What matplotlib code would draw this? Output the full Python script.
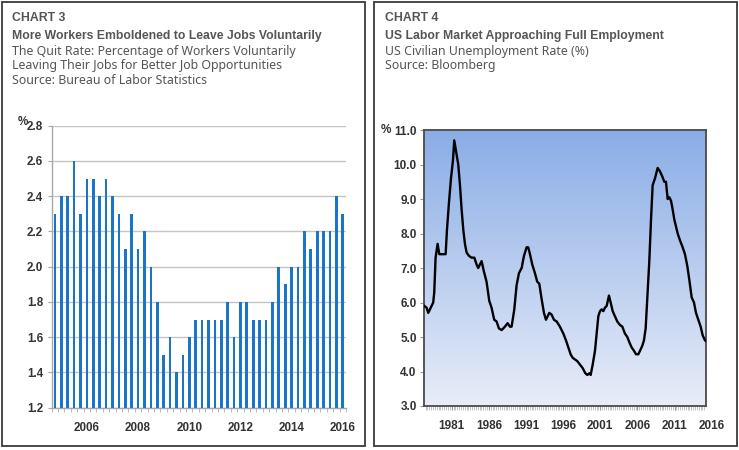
import matplotlib

matplotlib.use("Agg")
import matplotlib.pyplot as plt
import numpy as np
from matplotlib.colors import LinearSegmentedColormap
from matplotlib.patches import Rectangle
from matplotlib.ticker import FormatStrFormatter, MultipleLocator

# chart 3: quarterly quit rate (%)
quit_rate = [2.3, 2.4, 2.4, 2.6, 2.3, 2.5, 2.5, 2.4, 2.5, 2.4, 2.3, 2.1, 2.3, 2.1, 2.2, 2.0,
             1.8, 1.5, 1.6, 1.4, 1.5, 1.6, 1.7, 1.7, 1.7, 1.7, 1.7, 1.8, 1.6, 1.8, 1.8, 1.7,
             1.7, 1.7, 1.8, 2.0, 1.9, 2.0, 2.0, 2.2, 2.1, 2.2, 2.2, 2.2, 2.4, 2.3]
quit_labels = ["2006", "2008", "2010", "2012", "2014", "2016"]

# chart 4: unemployment rate, x in the chart's own year scale
unemp_year = [1977.32, 1977.63, 1977.85, 1978.08, 1978.30, 1978.52, 1978.66, 1978.84,
              1979.11, 1979.34, 1979.65, 1980.19, 1980.37, 1980.64, 1980.91, 1981.17,
              1981.35, 1981.58, 1981.89, 1982.12, 1982.34, 1982.57, 1982.79, 1983.01,
              1983.33, 1983.69, 1984.05, 1984.36, 1984.58, 1984.81, 1985.03, 1985.34,
              1985.70, 1986.06, 1986.37, 1986.73, 1987.05, 1987.36, 1987.72, 1988.17,
              1988.53, 1988.84, 1989.07, 1989.43, 1989.74, 1990.06, 1990.42, 1990.73,
              1991.09, 1991.31, 1991.54, 1991.85, 1992.21, 1992.52, 1992.79, 1993.11,
              1993.42, 1993.69, 1993.91, 1994.14, 1994.45, 1994.77, 1995.13, 1995.57,
              1996.03, 1996.39, 1996.70, 1997.01, 1997.28, 1997.60, 1997.91, 1998.27,
              1998.63, 1998.99, 1999.26, 1999.53, 1999.71, 1999.98, 2000.29, 2000.51,
              2000.74, 2000.96, 2001.19, 2001.41, 2001.63, 2001.86, 2002.17, 2002.40,
              2002.67, 2002.98, 2003.29, 2003.65, 2003.97, 2004.32, 2004.64, 2004.91,
              2005.22, 2005.54, 2005.81, 2006.12, 2006.35, 2006.66, 2006.88, 2007.11,
              2007.33, 2007.60, 2007.83, 2008.05, 2008.37, 2008.72, 2009.04, 2009.35,
              2009.62, 2009.84, 2010.07, 2010.29, 2010.52, 2010.74, 2010.97, 2011.19,
              2011.42, 2011.73, 2012.09, 2012.40, 2012.72, 2012.99, 2013.30, 2013.61,
              2013.88, 2014.20, 2014.51, 2014.78, 2015.10, 2015.23]
unemp_rate = [5.9, 5.85, 5.7, 5.8, 5.9, 6.0, 6.3, 7.3,
              7.7, 7.4, 7.4, 7.4, 8.1, 8.9, 9.6, 10.1,
              10.7, 10.4, 10.0, 9.4, 8.7, 8.1, 7.7, 7.45,
              7.35, 7.3, 7.3, 7.1, 7.0, 7.1, 7.2, 6.9,
              6.6, 6.05, 5.85, 5.5, 5.45, 5.25, 5.2, 5.3,
              5.4, 5.3, 5.3, 5.8, 6.5, 6.85, 7.0, 7.35,
              7.6, 7.6, 7.4, 7.1, 6.85, 6.6, 6.55, 6.1,
              5.7, 5.5, 5.6, 5.7, 5.65, 5.5, 5.45, 5.3,
              5.1, 4.9, 4.7, 4.5, 4.4, 4.35, 4.3, 4.2,
              4.1, 3.95, 3.9, 3.95, 3.9, 4.2, 4.6, 5.1,
              5.6, 5.75, 5.8, 5.75, 5.85, 5.9, 6.2, 6.0,
              5.75, 5.6, 5.45, 5.35, 5.3, 5.1, 5.0, 4.85,
              4.7, 4.6, 4.5, 4.5, 4.6, 4.75, 4.9, 5.25,
              6.1, 7.2, 8.4, 9.4, 9.6, 9.9, 9.8, 9.65,
              9.5, 9.5, 9.0, 9.05, 8.95, 8.7, 8.4, 8.2,
              8.0, 7.8, 7.6, 7.4, 7.05, 6.65, 6.15, 6.0,
              5.7, 5.5, 5.3, 5.05, 4.9, 4.88]
unemp_labels = ["1981", "1986", "1991", "1996", "2001", "2006", "2011", "2016"]

W, H = 739, 450
TEXT_GREY = "#555555"
TICK_GREY = "#333333"
TICK_FONT = ["Liberation Sans", "DejaVu Sans"]
BOLD_FONT = ["Liberation Sans", "DejaVu Sans"]
PLAIN_FONT = ["Noto Sans", "DejaVu Sans"]

fig = plt.figure(figsize=(W / 100, H / 100), dpi=100)


def box(x0, y0, x1, y1):
    # panel frame given in pixels from the top-left corner
    fig.patches.append(Rectangle((x0 / W, 1 - y1 / H), (x1 - x0) / W, (y1 - y0) / H,
                                 transform=fig.transFigure, fill=False,
                                 edgecolor="#3a3a3a", linewidth=1.3))


def axes_px(x0, y0, x1, y1):
    return fig.add_axes([x0 / W, 1 - y1 / H, (x1 - x0) / W, (y1 - y0) / H])


def heading(x, lines):
    baselines = [21, 39, 54.5, 69.5, 84.5]
    for i, line in enumerate(lines):
        bold = i < 2
        fig.text(x / W, 1 - baselines[i] / H, line, ha="left", va="baseline",
                 fontsize=8.8 if bold else 8.9, color=TEXT_GREY,
                 family=BOLD_FONT if bold else PLAIN_FONT,
                 fontweight="bold" if bold else "normal")


def style_ticks(ax, size):
    for lab in ax.get_xticklabels() + ax.get_yticklabels():
        lab.set_family(TICK_FONT)
        lab.set_fontweight("bold")
        lab.set_fontsize(size)
        lab.set_color(TICK_GREY)


box(1.5, 1.5, 365.3, 446)
box(374.3, 1.5, 736.7, 445.7)

heading(12, ["CHART 3",
             "More Workers Emboldened to Leave Jobs Voluntarily",
             "The Quit Rate: Percentage of Workers Voluntarily",
             "Leaving Their Jobs for Better Job Opportunities",
             "Source: Bureau of Labor Statistics"])
heading(385, ["CHART 4",
              "US Labor Market Approaching Full Employment",
              "US Civilian Unemployment Rate (%)",
              "Source: Bloomberg"])

# ---- chart 3: bars
ax1 = axes_px(51.7, 125.7, 346, 407.7)
idx = np.arange(len(quit_rate))
ax1.bar(idx, quit_rate, width=0.42, color="#1a75c9", zorder=3)
ax1.set_ylim(1.2, 2.8)
ax1.set_xlim(-0.45, len(quit_rate) - 0.5)
ax1.yaxis.set_major_locator(MultipleLocator(0.2))
ax1.yaxis.set_major_formatter(FormatStrFormatter("%.1f"))
ax1.grid(axis="y", color="#c4c4c4", linewidth=1.0, zorder=0)
for side in ("top", "right"):
    ax1.spines[side].set_visible(False)
for side in ("left", "bottom"):
    ax1.spines[side].set_color("#a8a8a8")
    ax1.spines[side].set_linewidth(1.0)
ax1.set_xticks(np.arange(5, len(quit_rate), 8))
ax1.set_xticklabels(quit_labels)
ax1.set_xticks(np.arange(-0.5, len(quit_rate), 1), minor=True)
ax1.tick_params(axis="x", which="major", length=0, pad=10)
ax1.tick_params(axis="x", which="minor", length=3, color="#b0b0b0")
ax1.tick_params(axis="y", length=3, color="#a8a8a8", pad=3)
style_ticks(ax1, 8.4)
fig.text(18 / W, 1 - 125 / H, "%", ha="left", va="baseline", fontsize=8.4,
         fontweight="bold", color=TICK_GREY, family=TICK_FONT)

# ---- chart 4: line over a gradient
ax2 = axes_px(424.3, 130, 706, 406)
grad = LinearSegmentedColormap.from_list("bg", ["#e8edf8", "#8aade6"])
ax2.imshow(np.linspace(0, 1, 256).reshape(-1, 1), cmap=grad, origin="lower",
           extent=(0, 1, 0, 1), transform=ax2.transAxes, aspect="auto", zorder=0)
ax2.plot(unemp_year, unemp_rate, color="black", linewidth=1.7, zorder=3)
ax2.set_xlim(1977.32, 2015.23)
ax2.set_ylim(3.0, 11.0)
ax2.yaxis.set_major_locator(MultipleLocator(1.0))
ax2.yaxis.set_major_formatter(FormatStrFormatter("%.1f"))
tick_years = [int(y) for y in unemp_labels]
ax2.set_xticks(tick_years[:-1])
ax2.set_xticklabels(unemp_labels[:-1])
ax2.xaxis.set_minor_locator(MultipleLocator(0.25))
ax2.tick_params(axis="x", which="major", length=3, color="#999999", pad=7)
ax2.tick_params(axis="x", which="minor", length=3, color="#b8b8b8", width=0.6)
ax2.tick_params(axis="y", length=3, color="#999999", pad=2.5)
for spine in ax2.spines.values():
    spine.set_color("#4a4a4a")
    spine.set_linewidth(1.3)
style_ticks(ax2, 8.5)
ax2.text(tick_years[-1], -0.052, unemp_labels[-1], ha="center", va="top",
         transform=ax2.get_xaxis_transform(), clip_on=False, fontsize=8.5,
         fontweight="bold", color=TICK_GREY, family=TICK_FONT)
fig.text(381 / W, 1 - 133 / H, "%", ha="left", va="baseline", fontsize=8.5,
         fontweight="bold", color=TICK_GREY, family=TICK_FONT)

fig.savefig("out.png", dpi=100)
